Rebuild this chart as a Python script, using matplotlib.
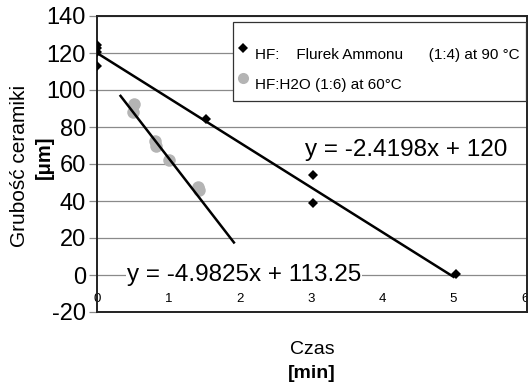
import matplotlib
matplotlib.use("Agg")
import matplotlib.pyplot as plt
from matplotlib.lines import Line2D
from matplotlib.patches import Rectangle
import numpy as np

plt.rcParams['font.family'] = ['Liberation Sans', 'DejaVu Sans']
plt.rcParams['axes.unicode_minus'] = False

# Data (time in min, thickness in um)
hf_amm_x = [0, 0, 0, 0, 1.53, 3.03, 3.03, 5.03]
hf_amm_y = [124.5, 122.5, 120.5, 113, 84.5, 54, 39, 0.5]
hf_h2o_x = [0.52, 0.51, 0.81, 0.83, 1.01, 1.42, 1.43]
hf_h2o_y = [92.5, 88, 72.5, 69.5, 62, 47.5, 46]

# Trendline equations (fitted with x in units of 0.1 min)
fit1_slope, fit1_icpt = -2.4198, 120
fit2_slope, fit2_icpt = -4.9825, 113.25
fit1_range = [0, 5.0]
fit2_range = [0.33, 1.92]
eq1_text = "y = -2.4198x + 120"
eq2_text = "y = -4.9825x + 113.25"

legend_labels = ["HF:    Flurek Ammonu      (1:4) at 90 °C",
                 "HF:H2O (1:6) at 60°C"]
x_ticks = [0, 1, 2, 3, 4, 5, 6]
y_ticks = [-20, 0, 20, 40, 60, 80, 100, 120, 140]

W, H = 528, 385
fig = plt.figure(figsize=(W / 100, H / 100), dpi=100)
ax = fig.add_axes([97 / W, 1 - 312 / H, (527 - 97) / W, (312 - 16) / H])

ax.set_xlim(0, 6.03)
ax.set_ylim(-20, 140)

# gridlines
ax.set_yticks(y_ticks)
ax.yaxis.grid(True, color='#8a8a8a', linewidth=0.9)
ax.set_axisbelow(True)
ax.tick_params(axis='y', direction='out', length=6, width=0.9, color='#8a8a8a',
               labelsize=17, pad=2)
ax.set_xticks(x_ticks)
ax.set_xticklabels([str(t) for t in x_ticks])
ax.tick_params(axis='x', length=0, labelsize=9.5, pad=-14)
for lab in ax.get_xticklabels():
    lab.set_zorder(5)

for s in ax.spines.values():
    s.set_color('#222222')
    s.set_linewidth(1.4)

# trendlines
x1 = np.array(fit1_range)
ax.plot(x1, fit1_icpt + fit1_slope * 10 * x1, color='black', linewidth=1.8, zorder=3)
x2 = np.array(fit2_range)
ax.plot(x2, fit2_icpt + fit2_slope * 10 * x2, color='black', linewidth=1.8, zorder=3)

# data
ax.plot(hf_h2o_x, hf_h2o_y, 'o', color='#b4b4b4', markersize=9, zorder=2,
        markeredgewidth=0)
ax.plot(hf_amm_x, hf_amm_y, 'D', color='black', markersize=5.5, zorder=4,
        markeredgewidth=0)

# equation texts
ax.text(2.91, 67.5, eq1_text, fontsize=17.5, va='center', ha='left', zorder=5,
        bbox=dict(facecolor='white', edgecolor='none', pad=0.5))
ax.text(0.42, 0, eq2_text, fontsize=17.5, va='center', ha='left', zorder=5,
        bbox=dict(facecolor='white', edgecolor='none', pad=0.5))

# legend (box, markers, labels) in figure pixel coordinates
def fx(px):
    return px / W

def fy(py):
    return 1 - py / H

fig.patches.append(Rectangle((fx(233), fy(101)), fx(526) - fx(233), fy(22) - fy(101),
                             transform=fig.transFigure, facecolor='white',
                             edgecolor='#333333', linewidth=0.9, zorder=6))
fig.lines.append(Line2D([fx(243)], [fy(48)], marker='D', color='black',
                        linestyle='none', markersize=5, markeredgewidth=0,
                        transform=fig.transFigure, zorder=7))
fig.lines.append(Line2D([fx(243)], [fy(78)], marker='o', color='#b4b4b4',
                        linestyle='none', markersize=8, markeredgewidth=0,
                        transform=fig.transFigure, zorder=7))
fig.text(fx(255), fy(55), legend_labels[0], fontsize=11, va='center', ha='left',
         zorder=8)
fig.text(fx(255), fy(85), legend_labels[1], fontsize=11, va='center', ha='left',
         zorder=8)

# axis labels
fig.text(20 / W, 1 - 166 / H, "Grubość ceramiki", rotation=90, fontsize=15,
         ha='center', va='center')
fig.text(44 / W, 1 - 157 / H, "[μm]", rotation=90, fontsize=14.5,
         fontweight='bold', ha='center', va='center')
fig.text(312 / W, 1 - 350 / H, "Czas", fontsize=14, ha='center', va='center')
fig.text(312 / W, 1 - 374 / H, "[min]", fontsize=14, fontweight='bold',
         ha='center', va='center')

fig.savefig("out.png", dpi=100)
